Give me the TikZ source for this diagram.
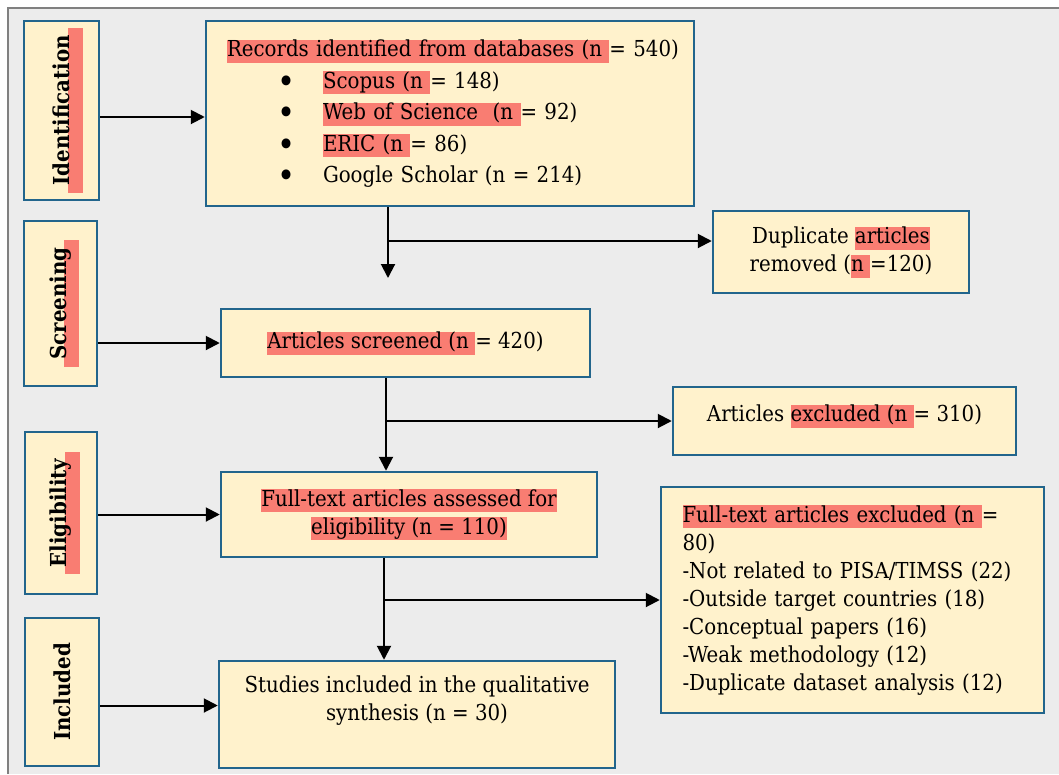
\documentclass[tikz,border=0pt]{standalone}
\usepackage{fontspec}
\setmainfont{DejaVu Serif Condensed}
\usepackage{xcolor}
\usetikzlibrary{arrows.meta}
\definecolor{boxfill}{HTML}{FFF2CC}
\definecolor{boxline}{HTML}{22658C}
\definecolor{hlred}{HTML}{F97D72}
\definecolor{paper}{HTML}{ECECEC}
\definecolor{framegray}{HTML}{808080}
\newsavebox{\stagetext}
\newcommand{\hl}[1]{{\setlength{\fboxsep}{0pt}\colorbox{hlred}{\rule[-6pt]{0pt}{23pt}#1}}}
\newcommand{\stagehl}[1]{\sbox{\stagetext}{#1}\smash{\rlap{\hspace{-7pt}\textcolor{hlred}{\rule[-13pt]{\dimexpr\wd\stagetext+14pt\relax}{15pt}}}}\usebox{\stagetext}}
\newcommand{\bigdot}{\hspace*{62pt}\makebox[46pt][l]{\raisebox{-5pt}{\fontsize{34}{34}\selectfont\textbullet}}}
\tikzstyle{stagebox} = [draw=boxline, fill=boxfill, line width=2.5pt,
    rectangle, inner sep=0pt, font=\bfseries\fontsize{22}{24}\selectfont]
\tikzstyle{flowbox} = [draw=boxline, fill=boxfill, line width=2.5pt,
    rectangle, inner sep=0pt, align=center, font=\fontsize{22}{28}\selectfont]
\tikzstyle{flowarrow} = [line width=2pt, -{Triangle[length=14pt,width=14pt]}]

\begin{document}
\begin{tikzpicture}[x=1pt, y=-1pt]
    \useasboundingbox (0,0) rectangle (1059,774);
    \fill[paper] (8,8) rectangle (1059,774);
    \draw[framegray, line width=2pt] (8,774) -- (8,8) -- (1059,8);

    % stages on the left
    \node[stagebox, minimum width=75, minimum height=179] (ident) at (61.5,110.5) {\rotatebox{90}{\stagehl{Identification}}};
    \node[stagebox, minimum width=73, minimum height=165] (screen) at (60.5,303.5) {\rotatebox{90}{\stagehl{Screening}}};
    \node[stagebox, minimum width=72, minimum height=162] (elig) at (61,513) {\rotatebox{90}{\stagehl{Eligibility}}};
    \node[stagebox, minimum width=74, minimum height=148] (incl) at (62,692) {\rotatebox{90}{Included}};

    % flow boxes
    \node[flowbox, minimum width=488, minimum height=185, text width=470pt, align=left,
        font=\fontsize{22}{31.5}\selectfont] (records) at (450,113.5) {
        \hspace*{12pt}\hl{Records identified from databases (n }= 540)\\
        \bigdot\hl{Scopus (n }= 148)\\
        \bigdot\hl{Web of Science\ \ (n }= 92)\\
        \bigdot\hl{ERIC (n }= 86)\\
        \bigdot Google Scholar (n = 214)};
    \node[flowbox, minimum width=256, minimum height=82] (dup) at (841,252)
        {Duplicate \hl{articles}\\removed (\hl{n }=120)};
    \node[flowbox, minimum width=369, minimum height=68] (screened) at (405.5,343)
        {\hl{Articles screened (n }= 420)};
    \node[flowbox, minimum width=343, minimum height=68, text height=16pt, text depth=15pt] (excl) at (844.5,421)
        {Articles \hl{excluded (n }= 310)};
    \node[flowbox, minimum width=376, minimum height=85] (fulltext) at (409,514.5)
        {\hl{Full-text articles assessed for}\\\hl{eligibility (n = 110)}};
    \node[flowbox, minimum width=383, minimum height=226, text width=340pt, align=left] (ftexcl) at (852.5,600) {
        \hl{Full-text articles excluded (n }=\\
        80)\\
        -Not related to PISA/TIMSS (22)\\
        -Outside target countries (18)\\
        -Conceptual papers (16)\\
        -Weak methodology (12)\\
        -Duplicate dataset analysis (12)};
    \node[flowbox, minimum width=396, minimum height=107, text depth=32pt] (studies) at (417,714.5)
        {Studies included in the qualitative\\synthesis (n = 30)};

    % connectors
    \draw[flowarrow] ([yshift=-6.5pt]ident.east) -- ([yshift=-6.5pt]ident.east -| records.west);
    \draw[flowarrow] (screen.east |- screened.west) -- (screened.west);
    \draw[flowarrow] (elig.east |- fulltext.west) -- (fulltext.west);
    \draw[flowarrow] ([yshift=-13.5pt]incl.east) -- ([yshift=-13.5pt]incl.east -| studies.west);

    \coordinate (drop1) at (388,278);
    \coordinate (split1) at (388,241);
    \coordinate (split2) at (386,421);
    \coordinate (split3) at (384,600);
    \draw[flowarrow] (drop1 |- records.south) -- (drop1);
    \draw[flowarrow] (split1) -- (split1 -| dup.west);
    \draw[flowarrow] (split2 |- screened.south) -- (split2 |- fulltext.north);
    \draw[flowarrow] (split2) -- (excl.west);
    \draw[flowarrow] (split3 |- fulltext.south) -- (split3 |- studies.north);
    \draw[flowarrow] (split3) -- (ftexcl.west);
\end{tikzpicture}
\end{document}
